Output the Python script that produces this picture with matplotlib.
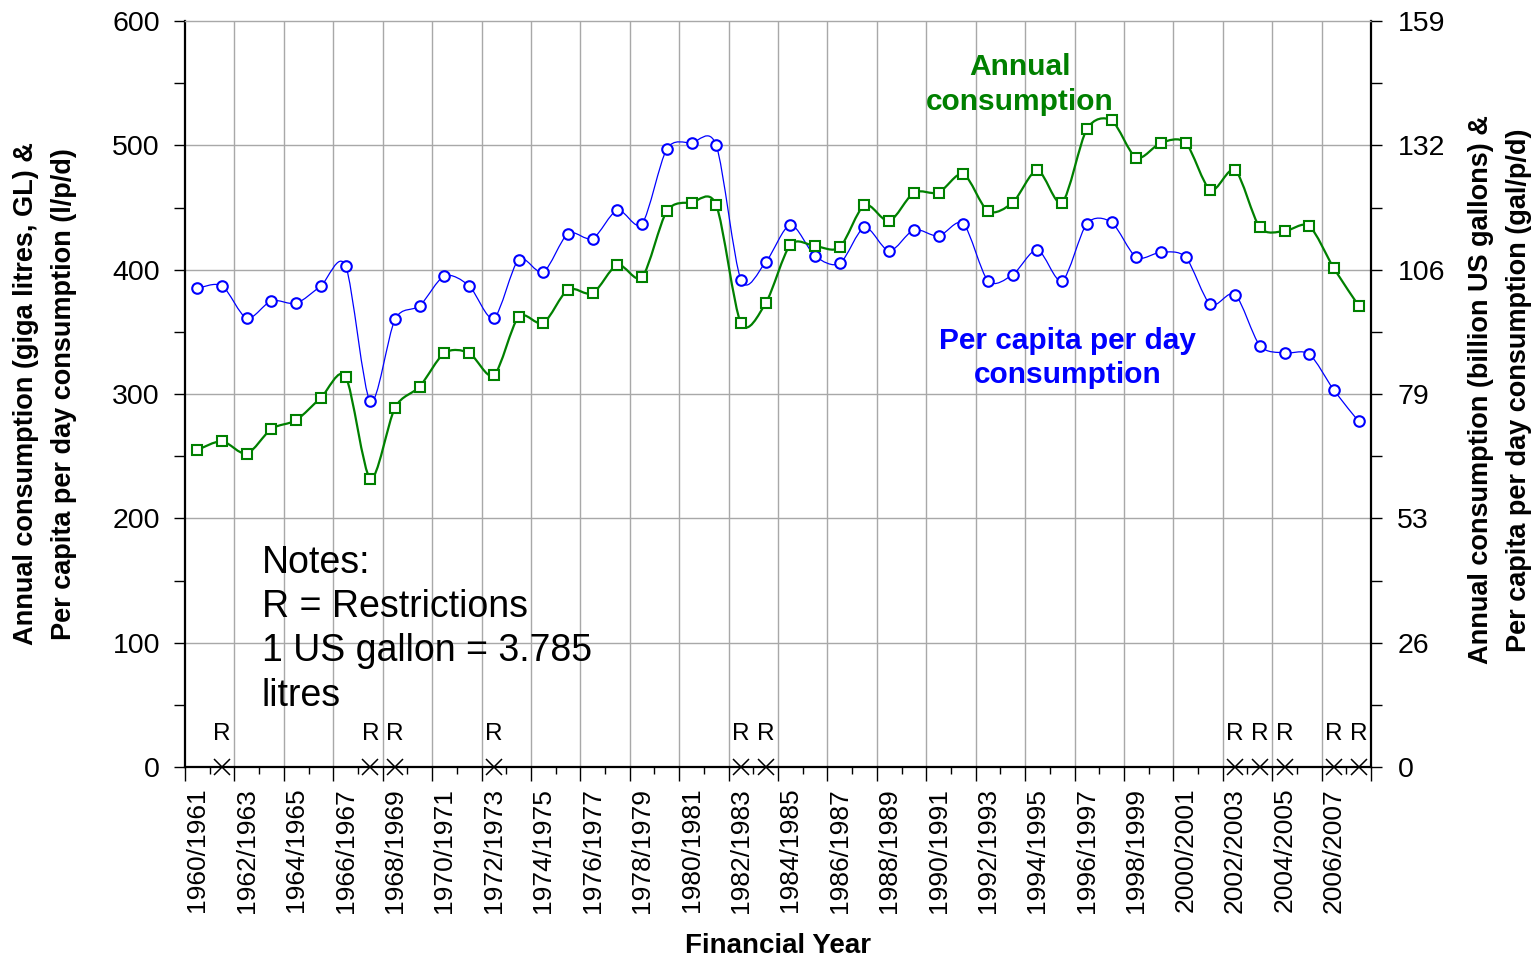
import matplotlib
matplotlib.use("Agg")
import matplotlib.pyplot as plt
from matplotlib.path import Path
from matplotlib.patches import PathPatch
import numpy as np

plt.rcParams['font.family'] = ['Liberation Sans', 'DejaVu Sans']

years = ['1960/1961', '1961/1962', '1962/1963', '1963/1964', '1964/1965', '1965/1966',
         '1966/1967', '1967/1968', '1968/1969', '1969/1970', '1970/1971', '1971/1972',
         '1972/1973', '1973/1974', '1974/1975', '1975/1976', '1976/1977', '1977/1978',
         '1978/1979', '1979/1980', '1980/1981', '1981/1982', '1982/1983', '1983/1984',
         '1984/1985', '1985/1986', '1986/1987', '1987/1988', '1988/1989', '1989/1990',
         '1990/1991', '1991/1992', '1992/1993', '1993/1994', '1994/1995', '1995/1996',
         '1996/1997', '1997/1998', '1998/1999', '1999/2000', '2000/2001', '2001/2002',
         '2002/2003', '2003/2004', '2004/2005', '2005/2006', '2006/2007', '2007/2008']

per_capita_lpd = [385, 387, 361, 375, 373, 387, 403, 294, 360, 371,
                  395, 387, 361, 408, 398, 429, 425, 448, 437, 497,
                  502, 500, 392, 406, 436, 411, 405, 434, 415, 432,
                  427, 437, 391, 396, 416, 391, 437, 438, 410, 414,
                  410, 372, 380, 339, 333, 332, 303, 278]

annual_gl = [255, 262, 252, 272, 279, 297, 314, 232, 289, 306,
             333, 333, 315, 362, 357, 384, 381, 404, 394, 447,
             454, 452, 357, 373, 420, 419, 418, 452, 439, 462,
             462, 477, 447, 454, 480, 454, 513, 520, 490, 502,
             502, 464, 480, 434, 431, 435, 401, 371]

restriction_years = ['1961/1962', '1967/1968', '1968/1969', '1972/1973',
                     '1982/1983', '1983/1984', '2002/2003', '2003/2004',
                     '2004/2005', '2006/2007', '2007/2008']
restriction_values = [0] * len(restriction_years)

left_ticks = [0, 100, 200, 300, 400, 500, 600]
right_tick_labels = ['0', '26', '53', '79', '106', '132', '159']

BLUE = '#0000FF'
GREEN = '#008000'
GRID = '#a8a8a8'


def smooth_path(xs, ys, k=7.0):
    """Bezier path through the data points, similar to Excel's smoothed lines."""
    xs = np.asarray(xs, float)
    ys = np.asarray(ys, float)
    n = len(xs)
    verts = [(xs[0], ys[0])]
    codes = [Path.MOVETO]
    for i in range(n - 1):
        i0 = max(i - 1, 0)
        i3 = min(i + 2, n - 1)
        c1 = (xs[i] + (xs[i + 1] - xs[i0]) / k, ys[i] + (ys[i + 1] - ys[i0]) / k)
        c2 = (xs[i + 1] - (xs[i3] - xs[i]) / k, ys[i + 1] - (ys[i3] - ys[i]) / k)
        verts += [c1, c2, (xs[i + 1], ys[i + 1])]
        codes += [Path.CURVE4, Path.CURVE4, Path.CURVE4]
    return Path(verts, codes)


fig = plt.figure(figsize=(15.39, 9.61), dpi=100)
ax = fig.add_axes([185 / 1539, 1 - 767 / 961, (1371 - 185) / 1539, (767 - 21) / 961])

x = np.arange(len(years))

# grid
ax.set_xlim(-0.5, len(years) - 0.5)
ax.set_ylim(0, 600)
for gx in np.arange(1.5, len(years) - 0.5, 2):
    ax.axvline(gx, color=GRID, lw=1.0, zorder=0)
for gy in left_ticks[1:-1]:
    ax.axhline(gy, color=GRID, lw=1.0, zorder=0)

# series
blue_patch = PathPatch(smooth_path(x, per_capita_lpd), fill=False, edgecolor=BLUE, lw=0.9, zorder=3)
ax.add_patch(blue_patch)
ax.plot(x, per_capita_lpd, ls='none', marker='o', ms=7.6, mec=BLUE, mfc='white', mew=1.5, zorder=4)

green_patch = PathPatch(smooth_path(x, annual_gl), fill=False, edgecolor=GREEN, lw=1.6, zorder=5)
ax.add_patch(green_patch)
ax.plot(x, annual_gl, ls='none', marker='s', ms=7.0, mec=GREEN, mfc='white', mew=1.5, zorder=6)

# restrictions
rx = [years.index(r) for r in restriction_years]
ax.plot(rx, restriction_values, ls='none', marker='x', ms=11.5, mec='black', mew=1.1,
        zorder=7, clip_on=False)
for xi, v in zip(rx, restriction_values):
    ax.annotate('R', (xi, v), xytext=(0, 24), textcoords='offset points',
                ha='center', va='center', fontsize=17.5, zorder=7)

# spines
for s in ['left', 'right', 'bottom']:
    ax.spines[s].set_linewidth(1.6)
    ax.spines[s].set_color('black')
ax.spines['top'].set_color(GRID)
ax.spines['top'].set_linewidth(1.0)

# x ticks: labels at every second category, tick marks at category boundaries
ax.set_xticks(x[::2])
ax.set_xticklabels(years[::2], rotation=90, fontsize=19)
ax.tick_params(axis='x', which='major', length=0, pad=15)
ax.set_xticks(np.arange(0.5, len(years) - 0.5, 2), minor=True)
ax.tick_params(axis='x', which='minor', direction='out', length=5, width=1.0)
sec = ax.secondary_xaxis('bottom')
sec.set_xticks(np.arange(-0.5, len(years), 2))
sec.set_xticklabels([])
sec.tick_params(axis='x', direction='out', length=10, width=1.0)
sec.spines['bottom'].set_visible(False)

# left y
ax.set_yticks(left_ticks)
ax.set_yticklabels([str(t) for t in left_ticks], fontsize=20.5)
ax.set_yticks(np.arange(50, 600, 100), minor=True)
ax.tick_params(axis='y', which='both', direction='out', length=8, width=1.0, pad=10)

# right y
ax2 = ax.twinx()
ax2.set_ylim(0, 600)
ax2.set_yticks(left_ticks)
ax2.set_yticklabels(right_tick_labels, fontsize=20.5)
ax2.set_yticks(np.arange(50, 600, 100), minor=True)
ax2.tick_params(axis='y', which='both', direction='out', length=8, width=1.0, pad=11)
for s in ax2.spines.values():
    s.set_visible(False)

# labels
ax.text(0.5, -0.24, 'Financial Year', transform=ax.transAxes, ha='center', va='center',
        fontsize=20, fontweight='bold')
fig.text(45 / 1539, 1 - 394 / 961,
         'Annual consumption (giga litres, GL) &\nPer capita per day consumption (l/p/d)',
         rotation=90, ha='center', va='center', fontsize=19.5, fontweight='bold',
         multialignment='center', linespacing=1.62)
fig.text(1500 / 1539, 1 - 390 / 961,
         'Annual consumption (billion US gallons) &\nPer capita per day consumption (gal/p/d)',
         rotation=90, ha='center', va='center', fontsize=19.5, fontweight='bold',
         multialignment='center', linespacing=1.62)

# annotations
ax.text(0.704, 0.915, 'Annual\nconsumption', transform=ax.transAxes, ha='center', va='center',
        fontsize=21.5, fontweight='bold', color=GREEN, linespacing=1.3)
ax.text(0.744, 0.548, 'Per capita per day\nconsumption', transform=ax.transAxes, ha='center',
        va='center', fontsize=21.5, fontweight='bold', color=BLUE, linespacing=1.3)
ax.text(0.0649, 0.298, 'Notes:\nR = Restrictions\n1 US gallon = 3.785\nlitres', transform=ax.transAxes,
        ha='left', va='top', fontsize=27, linespacing=1.3)

fig.savefig('out.png', dpi=100)
